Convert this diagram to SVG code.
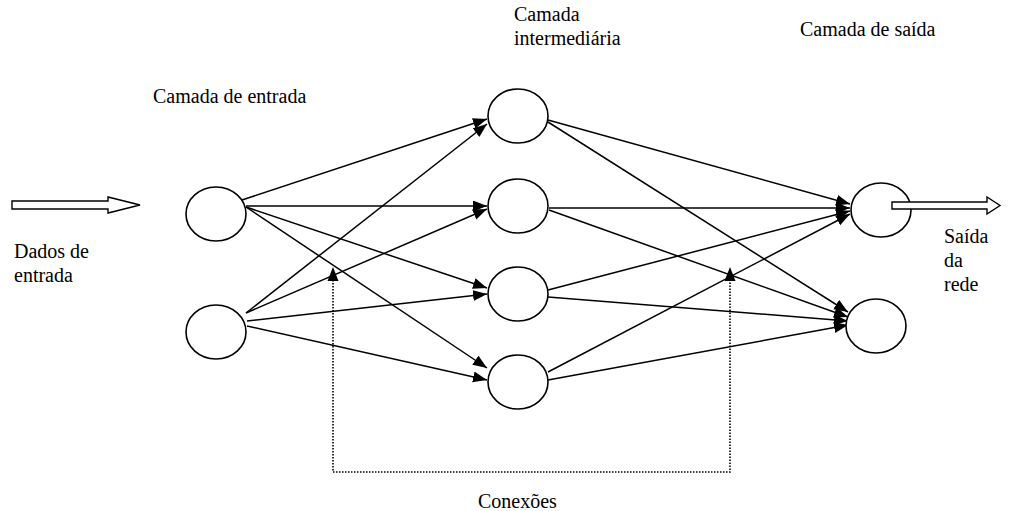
<svg xmlns="http://www.w3.org/2000/svg" width="1009" height="511" viewBox="0 0 1009 511">
  <style>
    .node { fill: #fff; stroke: #000; stroke-width: 1.6; }
    .edge { stroke: #000; stroke-width: 1.5; fill: none; marker-end: url(#head); }
    .dotted { stroke: #000; stroke-width: 1.6; fill: none; stroke-dasharray: 1.5 1.5; }
    .hollow { fill: #fff; stroke: #000; stroke-width: 1.4; }
    .label { font-family: "Liberation Serif", "Times New Roman", serif; font-size: 20px; fill: #000; }
  </style>
  <defs>
    <marker id="head" markerUnits="userSpaceOnUse" markerWidth="15" markerHeight="12" refX="14" refY="5.5" orient="auto">
      <path d="M0,0 L14,5.5 L0,11 z" fill="#000"/>
    </marker>
  </defs>

  <!-- layer titles and side labels -->
  <text class="label" x="153" y="103">Camada de entrada</text>
  <text class="label" x="514" y="21">Camada</text>
  <text class="label" x="514" y="45">intermediária</text>
  <text class="label" x="800" y="36">Camada de saída</text>
  <text class="label" x="14" y="258">Dados de</text>
  <text class="label" x="14" y="282">entrada</text>
  <text class="label" x="944" y="243">Saída</text>
  <text class="label" x="944" y="267">da</text>
  <text class="label" x="944" y="291">rede</text>
  <text class="label" x="478" y="508">Conexões</text>

  <!-- weighted connections -->
  <g id="connections">
    <line class="edge" x1="242" y1="200" x2="487" y2="119"/>
    <line class="edge" x1="246" y1="206" x2="487" y2="206"/>
    <line class="edge" x1="246" y1="207" x2="487" y2="288"/>
    <line class="edge" x1="246" y1="207" x2="487" y2="368"/>
    <line class="edge" x1="246" y1="313" x2="487" y2="124"/>
    <line class="edge" x1="246" y1="313" x2="487" y2="209"/>
    <line class="edge" x1="247" y1="321" x2="487" y2="294"/>
    <line class="edge" x1="247" y1="326" x2="487" y2="380"/>
    <line class="edge" x1="548" y1="120" x2="850" y2="204"/>
    <line class="edge" x1="548" y1="122" x2="848" y2="312"/>
    <line class="edge" x1="549" y1="208" x2="850" y2="208"/>
    <line class="edge" x1="549" y1="210" x2="848" y2="317"/>
    <line class="edge" x1="548" y1="290" x2="850" y2="211"/>
    <line class="edge" x1="548" y1="297" x2="848" y2="321"/>
    <line class="edge" x1="548" y1="372" x2="850" y2="214"/>
    <line class="edge" x1="548" y1="380" x2="848" y2="325"/>
    <!-- dotted bracket pointing at the connections -->
    <polyline class="dotted" points="333,280 333,472 730,472 730,280"/>
    <path d="M333,267 L338.5,281 L327.5,281 z" fill="#000"/>
    <path d="M730,267 L735.5,281 L724.5,281 z" fill="#000"/>
  </g>

  <!-- input signal arrow -->
  <polygon class="hollow" points="12,201 108,201 108,197 140,205 108,213 108,209 12,209"/>

  <g id="input-1"><ellipse class="node" cx="216" cy="214" rx="30" ry="27"/></g>
  <g id="input-2"><ellipse class="node" cx="216" cy="332" rx="30" ry="27"/></g>

  <g id="hidden-1"><ellipse class="node" cx="518" cy="116" rx="30" ry="27"/></g>
  <g id="hidden-2"><ellipse class="node" cx="518" cy="206" rx="30" ry="27"/></g>
  <g id="hidden-3"><ellipse class="node" cx="518" cy="294" rx="30" ry="27"/></g>
  <g id="hidden-4"><ellipse class="node" cx="518" cy="382" rx="30" ry="27"/></g>

  <g id="output-1"><ellipse class="node" cx="881" cy="210" rx="30" ry="27"/></g>
  <g id="output-2"><ellipse class="node" cx="876" cy="326" rx="30" ry="27"/></g>

  <!-- network output arrow -->
  <polygon class="hollow" points="892,202 987,202 987,197 1000,205.5 987,214 987,209 892,209"/>
</svg>
